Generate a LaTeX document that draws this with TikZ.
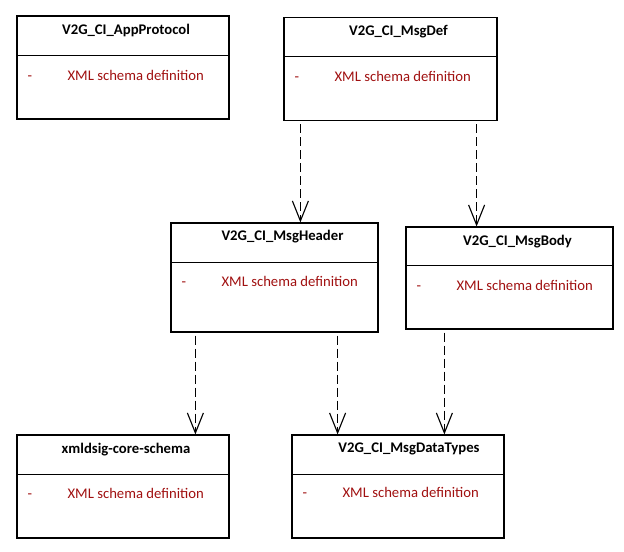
\documentclass[tikz,border=0pt]{standalone}
\usepackage{fontspec}
\setmainfont{Carlito}
\usepackage{tikz}
\usetikzlibrary{arrows.meta, calc, positioning}
\definecolor{schemared}{RGB}{160, 16, 16}

\begin{document}
\begin{tikzpicture}[x=1bp, y=-1bp, line cap=butt, line join=miter,
		box/.style={draw, line width=1.2pt, inner sep=0pt, rectangle},
		titletext/.style={font=\fontsize{14.7bp}{17bp}\selectfont\bfseries, inner sep=0pt},
		itemtext/.style={font=\fontsize{14.7bp}{17bp}\selectfont, text=schemared, inner sep=0pt, anchor=base west},
		dep/.style={line width=1.1pt, dash pattern=on 9bp off 4bp, -{Straight Barb[length=20bp, width=16bp, line width=1.1pt]}}]
		% page
		\useasboundingbox (0,0) rectangle (624,552);
		
		% packages (boxes)
		\node[box, minimum width=212bp, minimum height=103bp] (appprotocol) at (123,67.5) {};
		\node[box, minimum width=213bp, minimum height=103bp] (msgdef) at (390.5,69) {};
		\node[box, minimum width=207bp, minimum height=109bp] (msgheader) at (274.5,277.5) {};
		\node[box, minimum width=207bp, minimum height=102bp] (msgbody) at (509.5,278) {};
		\node[box, minimum width=212bp, minimum height=103bp] (xmldsig) at (123,486.5) {};
		\node[box, minimum width=212bp, minimum height=103bp] (msgdatatypes) at (398,486.5) {};
		
		% titles
		\node[titletext] (appprotocol-title) at ([xshift=3bp, yshift=-15bp]appprotocol.north) {V2G\_CI\_AppProtocol};
		\node[titletext] (msgdef-title) at ([xshift=8bp, yshift=-15bp]msgdef.north) {V2G\_CI\_MsgDef};
		\node[titletext] (msgheader-title) at ([xshift=8bp, yshift=-14bp]msgheader.north) {V2G\_CI\_MsgHeader};
		\node[titletext] (msgbody-title) at ([xshift=8bp, yshift=-15bp]msgbody.north) {V2G\_CI\_MsgBody};
		\node[titletext] (xmldsig-title) at ([xshift=3bp, yshift=-15bp]xmldsig.north) {xmldsig-core-schema};
		\node[titletext] (msgdatatypes-title) at ([xshift=11bp, yshift=-15bp]msgdatatypes.north) {V2G\_CI\_MsgDataTypes};
		
		% dividers
		\draw[line width=1.2pt] ([yshift=-40bp]appprotocol.north west) -- ([yshift=-40bp]appprotocol.north east);
		\draw[line width=1.2pt] ([yshift=-40bp]msgdef.north west) -- ([yshift=-40bp]msgdef.north east);
		\draw[line width=1.2pt] ([yshift=-40bp]msgheader.north west) -- ([yshift=-40bp]msgheader.north east);
		\draw[line width=1.2pt] ([yshift=-39bp]msgbody.north west) -- ([yshift=-39bp]msgbody.north east);
		\draw[line width=1.2pt] ([yshift=-40bp]xmldsig.north west) -- ([yshift=-40bp]xmldsig.north east);
		\draw[line width=1.2pt] ([yshift=-40bp]msgdatatypes.north west) -- ([yshift=-40bp]msgdatatypes.north east);
		
		% attributes
		\foreach \b/\dy in {appprotocol/65, msgdef/65, msgheader/64, msgbody/64, xmldsig/64, msgdatatypes/63}{
			\node[itemtext] (\b-dash) at ([xshift=11bp, yshift=-\dy bp]\b.north west) {-};
			\node[itemtext] (\b-attr) at ([xshift=51bp, yshift=-\dy bp]\b.north west) {XML schema definition};
		}
		
		% dependencies
		\coordinate (d1) at ([xshift=17bp, yshift=-3bp]msgdef.south west);
		\coordinate (d2) at ([xshift=-21bp, yshift=-3bp]msgdef.south east);
		\coordinate (h1) at ([xshift=25bp, yshift=-3bp]msgheader.south west);
		\coordinate (h2) at ([xshift=-41bp, yshift=-3bp]msgheader.south east);
		\coordinate (b1) at ([xshift=39bp, yshift=-3bp]msgbody.south west);
		
		\draw[dep] (d1) -- (d1 |- msgheader.north);
		\draw[dep] (d2) -- (d2 |- msgbody.north);
		\draw[dep] (h1) -- (h1 |- xmldsig.north);
		\draw[dep] (h2) -- (h2 |- msgdatatypes.north);
		\draw[dep] (b1) -- (b1 |- msgdatatypes.north);
\end{tikzpicture}
\end{document}
